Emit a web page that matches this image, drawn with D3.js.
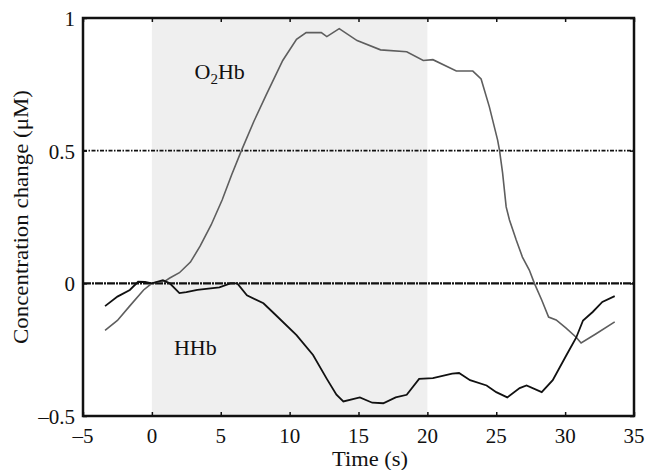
<!DOCTYPE html>
<html>
<head>
<meta charset="utf-8">
<script src="https://cdn.jsdelivr.net/npm/d3@7"></script>
<style>
  body { margin: 0; background: #fff; }
  text { font-family: "Liberation Serif", "Times New Roman", serif; fill: #111; }
</style>
</head>
<body>
<svg id="chart" width="648" height="470"></svg>
<script>
// readings (time in s, concentration change in uM)
const o2hbTime = [-3.4, -2.5, -1.6, -0.6, 0, 1, 1.3, 2, 2.8, 3.5, 4.3, 5.1, 5.8, 6.5, 7.4, 8.3, 9.5, 10.5, 11.2, 12.3, 12.7, 13.6, 14.9, 16.6, 18.5, 19.7, 20.4, 22.1, 23.3, 23.9, 24.5, 25.1, 25.24, 25.46, 25.72, 25.96, 26.45, 26.9, 27.4, 27.77, 28.3, 28.8, 29.35, 30.07, 30.8, 31.16, 32.25, 33.6];
const o2hbValue = [-0.177, -0.14, -0.085, -0.025, 0, 0.01, 0.02, 0.04, 0.08, 0.14, 0.22, 0.314, 0.41, 0.5, 0.61, 0.71, 0.84, 0.92, 0.945, 0.945, 0.93, 0.96, 0.915, 0.88, 0.873, 0.84, 0.843, 0.8, 0.8, 0.77, 0.665, 0.54, 0.5, 0.416, 0.288, 0.239, 0.163, 0.099, 0.05, 0, -0.063, -0.127, -0.138, -0.169, -0.203, -0.225, -0.19, -0.145];

const hhbTime = [-3.4, -2.5, -1.6, -1, -0.5, 0, 0.8, 1.3, 2, 2.5, 3.3, 4.9, 5.7, 6.2, 6.9, 8.1, 8.8, 10.5, 11.7, 12.7, 13.4, 13.9, 15.1, 16, 16.8, 17.7, 18.5, 19.4, 20.4, 21.8, 22.3, 23.1, 24.3, 25, 25.8, 26.7, 27.2, 28.3, 29.1, 30.1, 30.8, 31.3, 32, 32.7, 33.6];
const hhbValue = [-0.086, -0.05, -0.025, 0.006, 0.005, 0, 0.012, 0, -0.037, -0.033, -0.025, -0.015, 0, 0, -0.045, -0.075, -0.11, -0.195, -0.27, -0.36, -0.42, -0.445, -0.43, -0.45, -0.452, -0.43, -0.42, -0.36, -0.357, -0.34, -0.338, -0.365, -0.385, -0.41, -0.43, -0.395, -0.385, -0.41, -0.365, -0.27, -0.205, -0.14, -0.108, -0.07, -0.048];

const stimulus = [0, 20];
const xTicks = [-5, 0, 5, 10, 15, 20, 25, 30, 35];
const yTicks = [-0.5, 0, 0.5, 1];
const gridLevels = [0, 0.5];

const width = 648, height = 470;
const margin = {top: 18, right: 14, bottom: 54, left: 83};

const svg = d3.select("#chart");

const x = d3.scaleLinear().domain([-5, 35]).range([margin.left, width - margin.right]);
const y = d3.scaleLinear().domain([-0.5, 1]).range([height - margin.bottom, margin.top]);

const fmt = d => (d < 0 ? "\u2013" + Math.abs(d) : String(d));

// stimulus period
svg.append("rect")
    .attr("x", x(stimulus[0]))
    .attr("y", y(1))
    .attr("width", x(stimulus[1]) - x(stimulus[0]))
    .attr("height", y(-0.5) - y(1))
    .attr("fill", "#efefef");

// dash-dot reference lines
svg.append("g")
  .selectAll("line")
  .data(gridLevels)
  .join("line")
    .attr("x1", x(-5))
    .attr("x2", x(35))
    .attr("y1", d => y(d))
    .attr("y2", d => y(d))
    .attr("stroke", "#111")
    .attr("stroke-width", d => d === 0 ? 2.2 : 1.8)
    .attr("stroke-dasharray", d => d === 0 ? "8,1,2,1" : "4,1.5,1.5,1.5");

const line = d3.line()
    .x(d => x(d[0]))
    .y(d => y(d[1]));

svg.append("path")
    .datum(d3.zip(o2hbTime, o2hbValue))
    .attr("fill", "none")
    .attr("stroke", "#5e5e5e")
    .attr("stroke-width", 1.6)
    .attr("d", line);

svg.append("path")
    .datum(d3.zip(hhbTime, hhbValue))
    .attr("fill", "none")
    .attr("stroke", "#111")
    .attr("stroke-width", 1.8)
    .attr("d", line);

// axes: ticks point inward, labels drawn separately
const axBottom = svg.append("g")
    .attr("transform", `translate(0,${y(-0.5)})`)
    .call(d3.axisTop(x).tickValues(xTicks).tickSize(4).tickFormat(""));
const axTop = svg.append("g")
    .attr("transform", `translate(0,${y(1)})`)
    .call(d3.axisBottom(x).tickValues(xTicks).tickSize(4).tickFormat(""));
const axLeft = svg.append("g")
    .attr("transform", `translate(${x(-5)},0)`)
    .call(d3.axisRight(y).tickValues(yTicks).tickSize(4).tickFormat(""));
const axRight = svg.append("g")
    .attr("transform", `translate(${x(35)},0)`)
    .call(d3.axisLeft(y).tickValues(yTicks).tickSize(4).tickFormat(""));

[axBottom, axTop, axLeft, axRight].forEach(g => {
  g.selectAll(".domain").remove();
  g.selectAll(".tick line").attr("stroke", "#111").attr("stroke-width", 1.5);
});

// frame
svg.append("rect")
    .attr("x", x(-5))
    .attr("y", y(1))
    .attr("width", x(35) - x(-5))
    .attr("height", y(-0.5) - y(1))
    .attr("fill", "none")
    .attr("stroke", "#111")
    .attr("stroke-width", 2.5);

svg.append("g")
  .selectAll("text")
  .data(xTicks)
  .join("text")
    .attr("x", d => x(d))
    .attr("y", y(-0.5) + 27)
    .attr("text-anchor", "middle")
    .attr("font-size", 21)
    .text(fmt);

svg.append("g")
  .selectAll("text")
  .data(yTicks)
  .join("text")
    .attr("x", x(-5) - 8)
    .attr("y", d => y(d) + 8)
    .attr("text-anchor", "end")
    .attr("font-size", 21)
    .text(fmt);

svg.append("text")
    .attr("x", 370)
    .attr("y", 466)
    .attr("text-anchor", "middle")
    .attr("font-size", 22)
    .attr("textLength", 76)
    .attr("lengthAdjust", "spacingAndGlyphs")
    .text("Time (s)");

svg.append("text")
    .attr("transform", `translate(28,${(y(1) + y(-0.5)) / 2}) rotate(-90)`)
    .attr("text-anchor", "middle")
    .attr("font-size", 22)
    .attr("textLength", 254)
    .attr("lengthAdjust", "spacingAndGlyphs")
    .text("Concentration change (\u03bcM)");

// series labels
const o2 = svg.append("text")
    .attr("x", x(3.1))
    .attr("y", y(0.77))
    .attr("font-size", 22);
o2.append("tspan").text("O");
o2.append("tspan").attr("font-size", 15).attr("dy", 5).text("2");
o2.append("tspan").attr("dy", -5).text("Hb");

svg.append("text")
    .attr("x", x(1.6))
    .attr("y", y(-0.27))
    .attr("font-size", 22)
    .text("HHb");
</script>
</body>
</html>
